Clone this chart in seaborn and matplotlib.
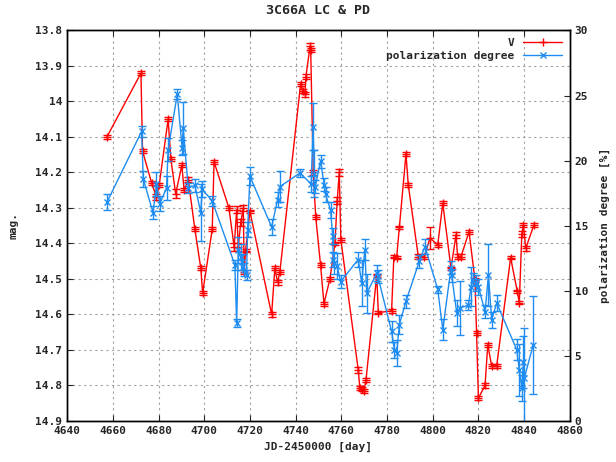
import numpy as np
import pandas as pd
import matplotlib
matplotlib.use('Agg')
import matplotlib.pyplot as plt
from matplotlib.ticker import FuncFormatter, MultipleLocator
from matplotlib.lines import Line2D
import seaborn as sns

# V band light curve (JD-2450000, magnitude, error)
v_jd = [4657.4, 4672.3, 4673.0, 4677.0, 4679.1, 4680.3, 4684.2, 4685.4, 4687.5, 4690.2,
        4691.2, 4693.0, 4695.9, 4698.5, 4699.3, 4703.5, 4704.3, 4710.8, 4713.1, 4714.2,
        4714.9, 4716.0, 4717.1, 4717.5, 4718.1, 4720.0, 4729.5, 4730.9, 4732.1, 4733.1,
        4742.2, 4743.1, 4744.1, 4744.5, 4746.3, 4746.6, 4747.7, 4748.8, 4750.9, 4752.4,
        4755.0, 4757.2, 4758.2, 4759.1, 4759.8, 4767.4, 4768.1, 4768.9, 4769.9, 4770.8,
        4775.5, 4776.2, 4782.0, 4783.0, 4784.2, 4785.4, 4788.3, 4789.3, 4793.7, 4796.3,
        4798.8, 4802.2, 4804.4, 4808.0, 4810.2, 4810.9, 4812.4, 4815.9, 4818.5, 4819.2,
        4820.0, 4822.9, 4824.1, 4825.8, 4828.0, 4834.1, 4837.0, 4837.9, 4839.0, 4839.7,
        4840.7, 4844.3]
v_mag = [14.100, 13.920, 14.140, 14.230, 14.270, 14.235, 14.050, 14.163, 14.260, 14.180,
         14.250, 14.220, 14.360, 14.470, 14.540, 14.360, 14.170, 14.300, 14.410, 14.305,
         14.410, 14.340, 14.300, 14.480, 14.420, 14.310, 14.600, 14.470, 14.510, 14.480,
         13.950, 13.970, 13.980, 13.930, 13.845, 13.855, 14.200, 14.325, 14.460, 14.570,
         14.500, 14.400, 14.280, 14.200, 14.390, 14.756, 14.807, 14.810, 14.815, 14.785,
         14.490, 14.595, 14.590, 14.437, 14.440, 14.355, 14.148, 14.235, 14.437, 14.437,
         14.385, 14.404, 14.287, 14.470, 14.376, 14.437, 14.437, 14.367, 14.503, 14.653,
         14.836, 14.800, 14.686, 14.745, 14.745, 14.440, 14.535, 14.567, 14.374, 14.348,
         14.414, 14.348]
v_err = [0.005, 0.005, 0.005, 0.006, 0.008, 0.006, 0.005, 0.006, 0.012, 0.006,
         0.006, 0.006, 0.005, 0.006, 0.005, 0.005, 0.005, 0.006, 0.010, 0.010,
         0.010, 0.010, 0.008, 0.005, 0.005, 0.005, 0.006, 0.006, 0.006, 0.006,
         0.006, 0.006, 0.006, 0.008, 0.010, 0.006, 0.006, 0.005, 0.005, 0.005,
         0.005, 0.005, 0.010, 0.010, 0.005, 0.008, 0.006, 0.006, 0.006, 0.006,
         0.005, 0.005, 0.005, 0.005, 0.005, 0.005, 0.005, 0.006, 0.006, 0.006,
         0.030, 0.006, 0.006, 0.005, 0.008, 0.006, 0.006, 0.006, 0.006, 0.005,
         0.005, 0.006, 0.006, 0.005, 0.005, 0.005, 0.005, 0.005, 0.008, 0.006,
         0.008, 0.005]

# polarization degree (JD-2450000, %, error)
pd_jd = [4657.4, 4672.6, 4673.3, 4677.6, 4679.1, 4680.6, 4683.5, 4684.2, 4688.2, 4690.3,
         4690.8, 4693.0, 4695.9, 4698.5, 4699.1, 4703.5, 4713.4, 4714.2, 4714.9, 4716.0,
         4716.6, 4717.5, 4718.5, 4719.0, 4720.0, 4729.5, 4732.1, 4733.1, 4741.9, 4746.8,
         4747.6, 4748.2, 4748.6, 4750.9, 4752.5, 4753.1, 4755.3, 4756.2, 4756.5, 4757.0,
         4758.2, 4759.7, 4767.4, 4768.9, 4770.3, 4771.1, 4775.5, 4776.0, 4782.0, 4783.2,
         4784.2, 4785.4, 4788.3, 4794.1, 4796.6, 4802.2, 4804.4, 4808.0, 4808.3, 4810.5,
         4811.9, 4815.6, 4816.8, 4817.8, 4818.8, 4820.0, 4822.9, 4824.4, 4825.8, 4828.0,
         4836.8, 4837.9, 4839.0, 4839.7, 4840.1, 4844.0]
pd_val = [16.8, 22.25, 18.6, 16.0, 18.2, 16.7, 17.9, 20.85, 25.1, 21.0,
          22.5, 17.9, 18.1, 16.0, 17.8, 16.9, 12.0, 7.5, 13.15, 12.6,
          12.2, 11.6, 11.2, 14.7, 18.8, 14.9, 17.0, 18.0, 19.05, 18.2,
          22.6, 19.0, 18.0, 19.95, 18.15, 17.4, 16.2, 14.2, 12.4, 12.1,
          11.9, 10.7, 12.4, 10.6, 13.15, 9.8, 11.35, 11.1, 6.87, 5.46,
          5.2, 7.4, 9.2, 12.25, 13.4, 10.1, 7.0, 11.75, 11.2, 8.3,
          8.67, 8.9, 10.3, 10.85, 10.6, 10.3, 8.4, 11.2, 7.77, 9.05,
          5.46, 3.9, 2.5, 4.56, 3.3, 5.85]
pd_err = [0.6, 0.4, 0.6, 0.5, 0.9, 0.6, 0.9, 0.9, 0.4, 0.6,
          2.0, 0.4, 0.5, 2.2, 0.6, 0.4, 0.4, 0.3, 1.0, 1.0,
          0.6, 0.5, 0.4, 0.6, 0.7, 0.6, 0.6, 1.2, 0.3, 0.6,
          1.8, 1.8, 0.5, 0.5, 0.5, 0.6, 0.6, 0.6, 0.6, 0.8,
          1.0, 0.5, 0.6, 1.8, 0.8, 1.5, 0.6, 0.5, 0.8, 0.6,
          1.0, 0.7, 0.5, 0.5, 0.6, 0.3, 0.8, 0.5, 0.5, 1.0,
          2.1, 0.4, 1.5, 0.5, 0.6, 0.6, 0.5, 2.4, 0.6, 0.6,
          0.8, 2.0, 1.0, 2.0, 3.8, 3.75]

red = '#ff0000'
blue = '#1e8cf0'

sns.set_style('ticks')
plt.rcParams['font.family'] = ['DejaVu Sans Mono', 'DejaVu Sans']
plt.rcParams['font.weight'] = 'bold'
plt.rcParams['font.size'] = 8

v_df = pd.DataFrame({'jd': v_jd, 'mag': v_mag})
p_df = pd.DataFrame({'jd': pd_jd, 'pd': pd_val})

fig, ax = plt.subplots(figsize=(6.16, 4.62), dpi=100)
fig.subplots_adjust(left=0.109, right=0.925, bottom=0.089, top=0.934)
ax2 = ax.twinx()

sns.lineplot(data=v_df, x='jd', y='mag', ax=ax, color=red, lw=1,
             estimator=None, sort=False, legend=False)
ax.errorbar(v_jd, v_mag, yerr=v_err, fmt='+', color=red, ms=6,
            mew=1, elinewidth=1, capsize=3)

sns.lineplot(data=p_df, x='jd', y='pd', ax=ax2, color=blue, lw=1,
             estimator=None, sort=False, legend=False)
ax2.errorbar(pd_jd, pd_val, yerr=pd_err, fmt='x', color=blue, ms=5,
             mew=1, elinewidth=1, capsize=3)

ax.set_xlim(4640, 4860)
ax.set_ylim(14.9, 13.8)
ax2.set_ylim(0, 30)
ax.xaxis.set_major_locator(MultipleLocator(20))
ax.yaxis.set_major_locator(MultipleLocator(0.1))
ax2.yaxis.set_major_locator(MultipleLocator(5))
ax.yaxis.set_major_formatter(FuncFormatter(lambda v, p: '%g' % round(v, 2)))

ax.grid(True, color='#a0a0a0', linestyle=(0, (2, 3)), lw=0.8)
ax.tick_params(direction='in', length=4, top=True, right=False, width=0.8)
ax2.tick_params(direction='in', length=4, width=0.8)
for a in (ax, ax2):
    for s in a.spines.values():
        s.set_linewidth(1)
        s.set_color('black')

ax.set_xlabel('JD-2450000 [day]', fontweight='bold')
ax.set_ylabel('mag.', fontweight='bold', labelpad=12)
ax2.set_ylabel('polarization degree [%]', fontweight='bold', labelpad=8)
ax.set_title('3C66A LC & PD', fontweight='bold', pad=12)

# gnuplot style key: horizontal sample line with the point symbol in the middle
v_key = Line2D([], [], color=red, lw=1, marker='+', ms=6, mew=1)
p_key = Line2D([], [], color=blue, lw=1, marker='x', ms=5, mew=1)
ax2.legend([v_key, p_key], ['V', 'polarization degree'], loc='upper right',
           markerfirst=False, frameon=False, handlelength=3.5,
           borderaxespad=0.3, labelspacing=0.2, handletextpad=0.8)

fig.savefig('out.png', dpi=100)
